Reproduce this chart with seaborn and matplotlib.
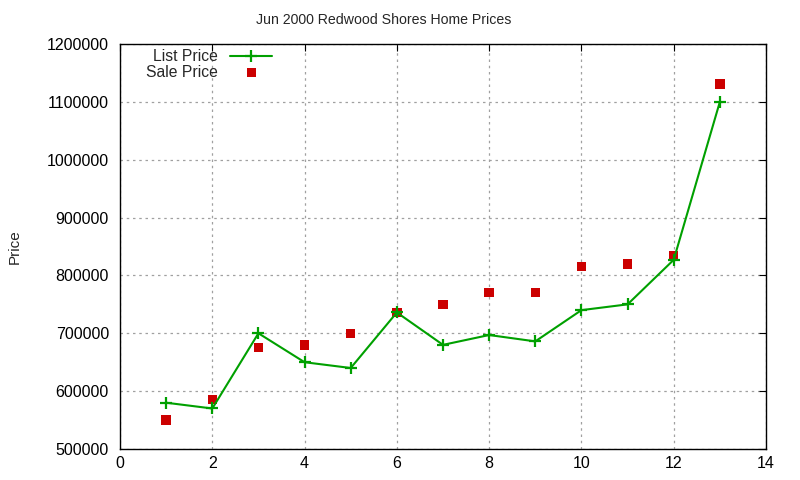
import pandas as pd
import matplotlib
matplotlib.use("Agg")
import matplotlib.pyplot as plt
import seaborn as sns

# house index and prices
house = [1, 2, 3, 4, 5, 6, 7, 8, 9, 10, 11, 12, 13]
list_price = [580000, 570000, 700000, 650000, 640000, 736000, 680000,
              697000, 686000, 740000, 750000, 827000, 1100000]
sale_price = [550000, 585000, 675000, 680000, 700000, 736000, 750000,
              770000, 770000, 815000, 820000, 834000, 1131000]

df = pd.DataFrame({'house': house, 'list': list_price, 'sale': sale_price})

sns.set_style('white')
plt.rcParams['font.family'] = ['Liberation Sans', 'DejaVu Sans']

fig = plt.figure(figsize=(8, 4.8), dpi=100)
ax = fig.add_axes([120 / 800, 1 - 449 / 480, 646 / 800, 405 / 480])

green = '#00a000'
sns.lineplot(data=df, x='house', y='list', ax=ax, color=green,
             marker='+', markersize=9, markeredgewidth=1.6,
             markeredgecolor=green, linewidth=1.5, label='List Price')
sns.scatterplot(data=df, x='house', y='sale', ax=ax, color='#cc0000',
                marker='s', s=45, edgecolor='none', label='Sale Price')

ax.set_xlim(0, 14)
ax.set_ylim(500000, 1200000)
ax.set_xticks(range(0, 15, 2))
ax.set_yticks(range(500000, 1200001, 100000))
ax.ticklabel_format(style='plain', axis='y')
ax.tick_params(direction='in', top=True, right=True, length=5,
               labelsize=11.5, colors='black', pad=8)
ax.tick_params(axis='x', pad=5)
ax.grid(True, linestyle=(0, (2, 3)), color='#a0a0a0', linewidth=0.9)
for s in ax.spines.values():
    s.set_color('black')
    s.set_linewidth(1)

ax.set_xlabel('')
ax.set_ylabel('Price', fontsize=11)
ax.yaxis.set_label_coords(-0.152, 0.5)
ax.set_title('')
fig.text(384 / 800, 1 - 20 / 480, 'Jun 2000 Redwood Shores Home Prices',
         ha='center', va='center', fontsize=10.2)

leg = ax.legend(loc='upper left', frameon=False, markerfirst=False,
                fontsize=11.3, handlelength=2.7, borderaxespad=0.0,
                labelspacing=0.05, bbox_to_anchor=(0.03, 1.003))
for t in leg.get_texts():
    t.set_ha('right')

fig.savefig('out.png', dpi=100)
